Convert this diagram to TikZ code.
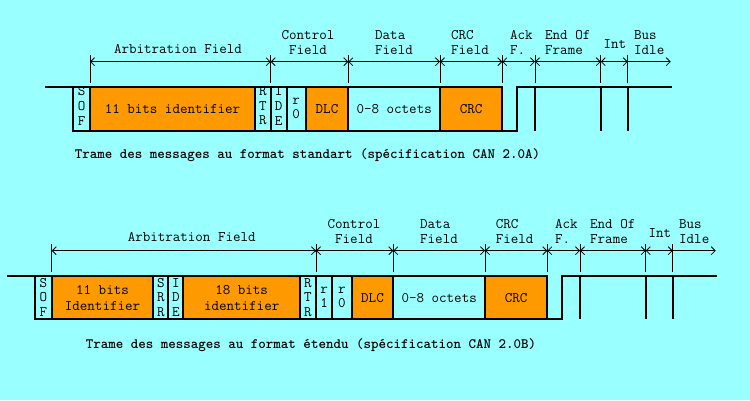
\documentclass[tikz,border=0pt]{standalone}
\usepackage{fontspec}
\usetikzlibrary{arrows.meta}
\definecolor{bg}{HTML}{99FFFF}
\definecolor{org}{HTML}{FF9900}
\tikzset{
  lbl/.style={font=\ttfamily\fontsize{14.6}{14.6}\selectfont, inner sep=0pt, align=center},
  lbll/.style={lbl, align=left, anchor=west},
  boxtxt/.style={font=\ttfamily\fontsize{14.6}{14.6}\selectfont, inner sep=0pt, align=center},
  boxtwo/.style={font=\ttfamily\fontsize{14.6}{16}\selectfont, inner sep=0pt, align=center},
  wave/.style={line width=2pt, line join=miter, line cap=rect},
  fieldbox/.style={line width=2pt},
  dimline/.style={line width=0.8pt, {Straight Barb[length=4pt,width=8pt]}-{Straight Barb[length=4pt,width=8pt]}},
  ticks/.style={line width=0.8pt},
  captxt/.style={font=\ttfamily\bfseries\fontsize{14.3}{16}\selectfont, inner sep=0pt},
}
\begin{document}
\begin{tikzpicture}[x=1pt,y=-1pt]
\fill[bg] (0,0) rectangle (750,400);
\useasboundingbox (0,0) rectangle (750,400);

% ================= TOP FRAME =================
\def\T{86.7}\def\B{130.7}
\foreach \a/\b in {90/255, 305.7/348.3, 440/502.3}
  \fill[org] (\a,\T) rectangle (\b,\B);
\draw[wave] (46,\T) -- (73.3,\T) -- (73.3,\B) -- (516.7,\B) -- (516.7,\T) -- (670.7,\T);
\draw[wave] (73.3,\T) -- (502.3,\T);
\foreach \x in {90, 255, 270.7, 286.7, 305.7, 348.3, 440, 502.3}
  \draw[fieldbox] (\x,\T) -- (\x,\B);
\foreach \x in {535, 600.7, 627.7}
  \draw[fieldbox] (\x,\T) -- (\x,\B);
\node[boxtxt] (sofA) at (81.7,106) {S\\O\\F};
\node[boxtxt] (idA) at (172.5,109.3) {11 bits identifier};
\node[boxtxt] (rtrA) at (262.8,106) {R\\T\\R};
\node[boxtxt] (ideA) at (278.7,106) {I\\D\\E};
\node[boxtxt] (rzA) at (296.2,108.3) {r\\0};
\node[boxtxt] (dlcA) at (327,109.3) {DLC};
\node[boxtxt] (datA) at (394.2,109.3) {0-8 octets};
\node[boxtxt] (crcA) at (471.2,109.3) {CRC};
\def\D{61.7}
\coordinate (a0) at (90,\D);
\coordinate (a1) at (270.7,\D);
\coordinate (a2) at (348.3,\D);
\coordinate (a3) at (440,\D);
\coordinate (a4) at (502.3,\D);
\coordinate (a5) at (535,\D);
\coordinate (a6) at (600.7,\D);
\coordinate (a7) at (627.7,\D);
\coordinate (a8) at (670.7,\D);
\draw[dimline] (a0) -- (a1);
\draw[dimline] (a1) -- (a2);
\draw[dimline] (a2) -- (a3);
\draw[dimline] (a3) -- (a4);
\draw[dimline] (a4) -- (a5);
\draw[dimline] (a5) -- (a6);
\draw[dimline] (a6) -- (a7);
\draw[line width=0.8pt, -{Straight Barb[length=4pt,width=8pt]}] (a7) -- (a8);
\foreach \x in {90, 270.7, 348.3, 440, 502.3, 535, 600.7, 627.7}
  \draw[ticks] (\x,55) -- (\x,82.7);
\fill (a1) circle (1.3pt);
\node[lbl] (arbA) at (178,49) {Arbitration Field};
\node[lbl] (ctlA) at (308,42.5) {Control\\Field};
\node[lbll] (dfA) at (375,42.5) {Data\\Field};
\node[lbll] (cfA) at (451,42.5) {CRC\\Field};
\node[lbll] (ackA) at (510,42.5) {Ack\\F.};
\node[lbll] (eofA) at (545,42.5) {End Of\\Frame};
\node[lbll] (intA) at (603.3,44) {Int};
\node[lbll] (busA) at (634,42.5) {Bus\\Idle};
\node[captxt] (capA) at (307.5,155) {Trame des messages au format standart (spécification CAN 2.0A)};

% ================= BOTTOM FRAME =================
\def\T{275.7}\def\B{319.3}
\foreach \a/\b in {51.7/153.3, 183.3/300, 351.7/393.3, 485/547.3}
  \fill[org] (\a,\T) rectangle (\b,\B);
\draw[wave] (8.3,\T) -- (35,\T) -- (35,\B) -- (562.3,\B) -- (562.3,\T) -- (715.7,\T);
\draw[wave] (35,\T) -- (547.3,\T);
\foreach \x in {51.7, 153.3, 168.3, 183.3, 300, 316, 332.3, 351.7, 393.3, 485, 547.3}
  \draw[fieldbox] (\x,\T) -- (\x,\B);
\foreach \x in {580, 645.7, 672.7}
  \draw[fieldbox] (\x,\T) -- (\x,\B);
\node[boxtxt] (sofB) at (43.3,297.3) {S\\O\\F};
\node[boxtwo] (id1B) at (102.5,298) {11 bits\\Identifier};
\node[boxtxt] (srrB) at (160.8,297.3) {S\\R\\R};
\node[boxtxt] (ideB) at (175.8,297.3) {I\\D\\E};
\node[boxtwo] (id2B) at (241.7,298) {18 bits\\identifier};
\node[boxtxt] (rtrB) at (308,297.3) {R\\T\\R};
\node[boxtxt] (r1B) at (324.2,297.3) {r\\1};
\node[boxtxt] (r0B) at (342,297.3) {r\\0};
\node[boxtxt] (dlcB) at (372.5,298) {DLC};
\node[boxtxt] (datB) at (439.2,298) {0-8 octets};
\node[boxtxt] (crcB) at (516.2,298) {CRC};
\def\D{250.7}
\coordinate (b0) at (51.7,\D);
\coordinate (b1) at (316,\D);
\coordinate (b2) at (393.3,\D);
\coordinate (b3) at (485,\D);
\coordinate (b4) at (547.3,\D);
\coordinate (b5) at (580,\D);
\coordinate (b6) at (645.7,\D);
\coordinate (b7) at (672.7,\D);
\coordinate (b8) at (715.7,\D);
\draw[dimline] (b0) -- (b1);
\draw[dimline] (b1) -- (b2);
\draw[dimline] (b2) -- (b3);
\draw[dimline] (b3) -- (b4);
\draw[dimline] (b4) -- (b5);
\draw[dimline] (b5) -- (b6);
\draw[dimline] (b6) -- (b7);
\draw[line width=0.8pt, -{Straight Barb[length=4pt,width=8pt]}] (b7) -- (b8);
\foreach \x in {51.7, 316, 393.3, 485, 547.3, 580, 645.7, 672.7}
  \draw[ticks] (\x,244.3) -- (\x,271.7);
\fill (b1) circle (1.3pt);
\node[lbl] (arbB) at (191.7,237.3) {Arbitration Field};
\node[lbl] (ctlB) at (354,231.5) {Control\\Field};
\node[lbll] (dfB) at (420,231.5) {Data\\Field};
\node[lbll] (cfB) at (495.7,231.5) {CRC\\Field};
\node[lbll] (ackB) at (555,231.5) {Ack\\F.};
\node[lbll] (eofB) at (590,231.5) {End Of\\Frame};
\node[lbll] (intB) at (648.3,233.3) {Int};
\node[lbll] (busB) at (679,231.5) {Bus\\Idle};
\node[captxt] (capB) at (311,345) {Trame des messages au format étendu (spécification CAN 2.0B)};
\end{tikzpicture}
\end{document}
